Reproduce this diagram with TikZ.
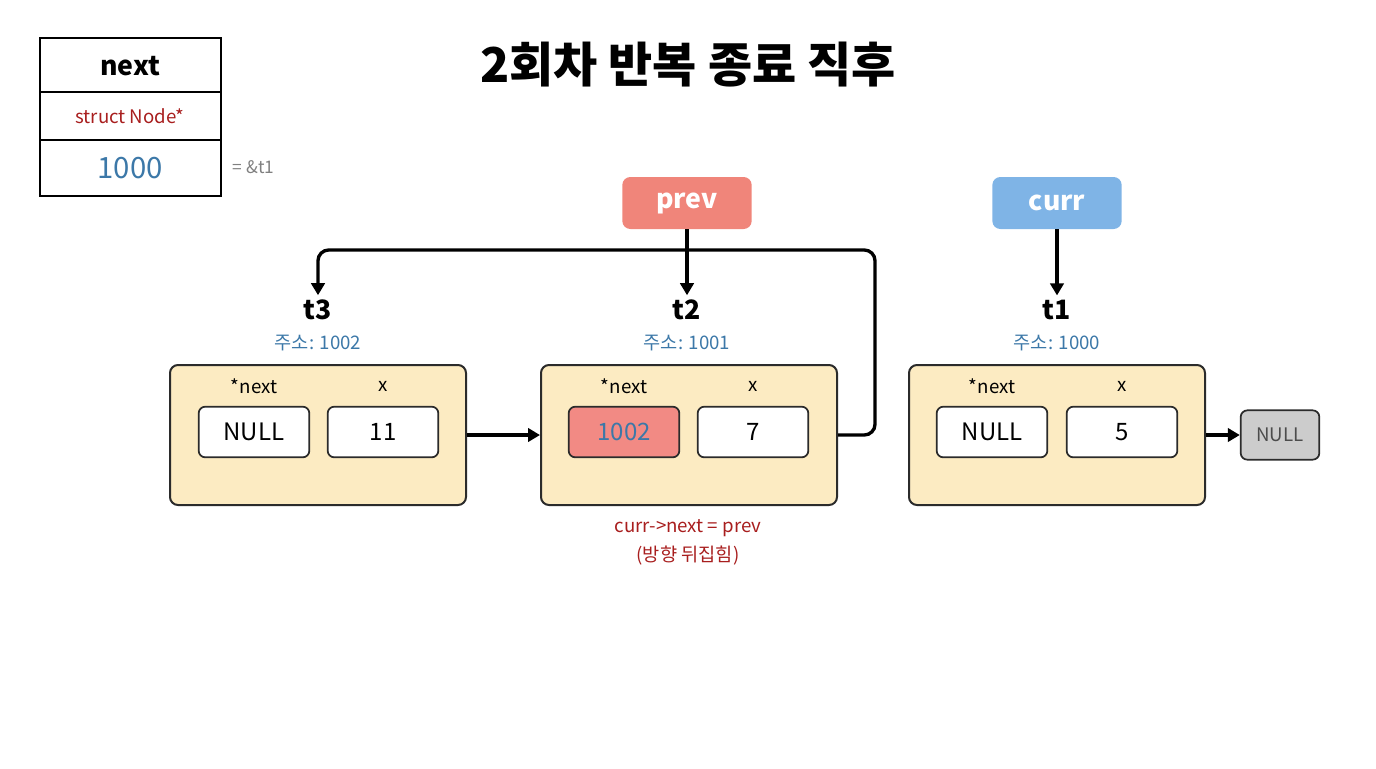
\documentclass[tikz,border=0pt]{standalone}
\usepackage{fontspec}
\setmainfont{Noto Sans CJK KR}
\usetikzlibrary{arrows.meta}
\definecolor{NodeFill}{HTML}{FCEBC2}
\definecolor{NodeLine}{HTML}{2B2B2B}
\definecolor{PrevRed}{HTML}{F0857A}
\definecolor{CurrBlue}{HTML}{7FB4E6}
\definecolor{AddrBlue}{HTML}{3C78A8}
\definecolor{DarkRed}{HTML}{A81E1E}
\definecolor{HiRed}{HTML}{F28A84}

\tikzset{
  structbox/.style={draw=NodeLine, line width=1.5pt, fill=NodeFill, rounded corners=6pt, minimum width=222pt, minimum height=105pt},
  field/.style={draw=NodeLine, line width=1.3pt, fill=white, rounded corners=5pt, minimum width=83pt, minimum height=38pt, font=\fontsize{18}{20}\selectfont},
  ptrbox/.style={rounded corners=6pt, minimum width=97pt, minimum height=39pt, text=white, font=\bfseries\fontsize{20}{22}\selectfont},
  fieldname/.style={font=\fontsize{14}{16}\selectfont},
  nodename/.style={font=\bfseries\fontsize{20}{22}\selectfont},
  addr/.style={text=AddrBlue, font=\fontsize{14}{16}\selectfont},
  link/.style={line width=2.5pt, -{Triangle[length=9pt,width=10pt]}, rounded corners=8pt},
}

\begin{document}
\begin{tikzpicture}[x=0.75pt,y=0.75pt,yscale=-1]
  \useasboundingbox (0,0) rectangle (1376,768);

  % Type legend (top left)
  \draw[line width=1.3pt] (40,38) rectangle (221,196);
  \draw[line width=1.3pt] (40,92) -- (221,92);
  \draw[line width=1.3pt] (40,140) -- (221,140);
  \node (lgname) at (130,66) {\bfseries\fontsize{20}{22}\selectfont next};
  \node[text=DarkRed] (lgtype) at (130,116) {\fontsize{14}{16}\selectfont struct Node*};
  \node[text=AddrBlue] (lgval) at (130,168) {\fontsize{22}{24}\selectfont 1000};
  \node[text=gray, anchor=west] (lgref) at (228,167) {\fontsize{13}{15}\selectfont = \&t1};

  % Title
  \node (title) at (688,65) {\bfseries\fontsize{36}{40}\selectfont 2회차 반복 종료 직후};

  % Pointer variables
  \node[ptrbox, fill=PrevRed] (prev) at (687,203) {prev};
  \node[ptrbox, fill=CurrBlue] (curr) at (1057,203) {curr};

  % Node labels and addresses
  \node[nodename] (t3) at (318,310) {t3};
  \node[addr] (a3) at (318,343) {주소: 1002};
  \node[nodename] (t2) at (687,310) {t2};
  \node[addr] (a2) at (687,343) {주소: 1001};
  \node[nodename] (t1) at (1057,310) {t1};
  \node[addr] (a1) at (1057,343) {주소: 1000};

  % Struct boxes
  \node[structbox] (n3) at (318,435) {};
  \node[structbox] (n2) at (689,435) {};
  \node[structbox] (n1) at (1057,435) {};

  % Fields of t3
  \node[fieldname] at (254,386) {*next};
  \node[fieldname] at (383,386) {x};
  \node[field] (n3next) at (254,432) {NULL};
  \node[field] (n3x) at (383,432) {11};

  % Fields of t2
  \node[fieldname] at (624,386) {*next};
  \node[fieldname] at (753,386) {x};
  \node[field, fill=HiRed, text=AddrBlue] (n2next) at (624,432) {1002};
  \node[field] (n2x) at (753,432) {7};

  % Fields of t1
  \node[fieldname] at (992,386) {*next};
  \node[fieldname] at (1122,386) {x};
  \node[field] (n1next) at (992,432) {NULL};
  \node[field] (n1x) at (1122,432) {5};

  % NULL terminal
  \node[draw=NodeLine, line width=1.3pt, fill=gray!40, rounded corners=5pt, minimum width=59pt, minimum height=37pt, text=black!70, font=\fontsize{14}{16}\selectfont] (null) at (1280,435) {NULL};

  % Links
  \draw[link] (prev.south) -- (t2.north);
  \draw[link] (prev.south |- 0,250) -| (t3.north);
  \draw[line width=2.5pt, rounded corners=8pt] (n2.east) -- (875,435) -- (875,250) -- (prev.south |- 0,250);
  \draw[link] (curr.south) -- (t1.north);
  \draw[link] (n3.east) -- (n2.west);
  \draw[link] (n1.east) -- (null.west);

  % Caption
  \node[text=DarkRed, font=\fontsize{14}{16}\selectfont] (cap1) at (688,528) {curr->next = prev};
  \node[text=DarkRed, font=\fontsize{14}{16}\selectfont] (cap2) at (688,556) {(방향 뒤집힘)};
\end{tikzpicture}
\end{document}
